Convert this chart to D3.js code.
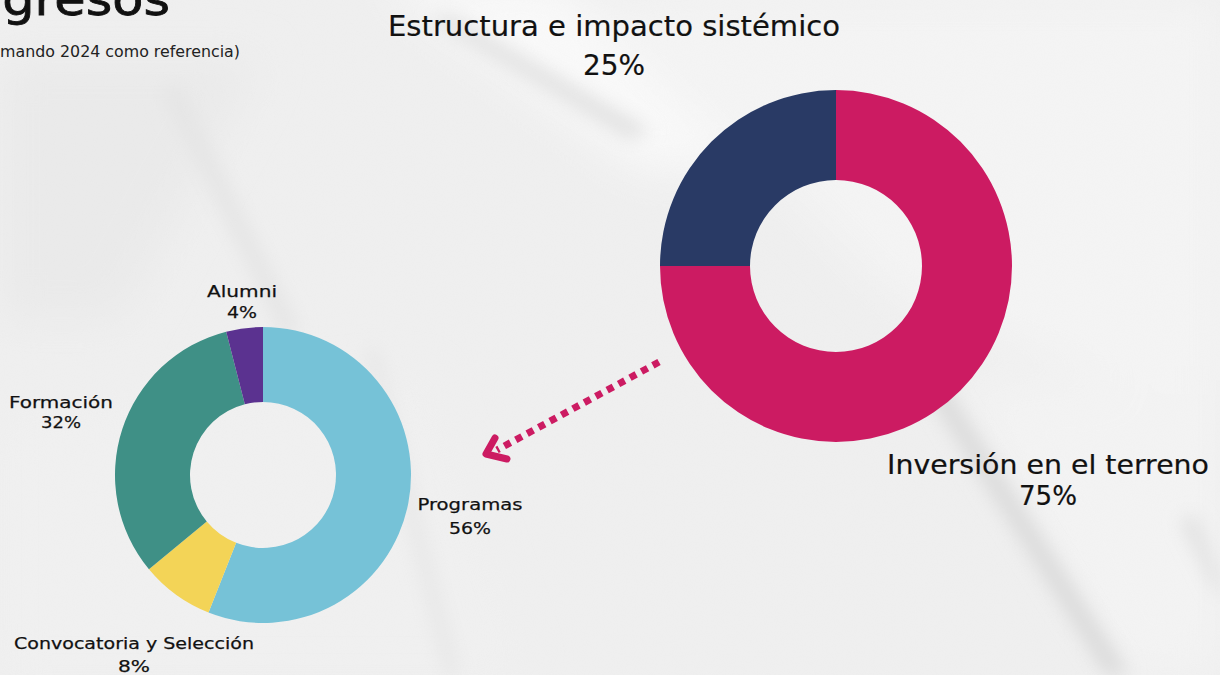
<!DOCTYPE html>
<html>
<head>
<meta charset="utf-8">
<script src="https://cdn.jsdelivr.net/npm/d3@7"></script>
<style>
  html, body { margin: 0; padding: 0; background: #efefef; overflow: hidden; }
  svg { display: block; font-family: "DejaVu Sans", sans-serif; }
</style>
</head>
<body>
<script>
// data
const mainLabels = ["Inversión en el terreno", "Estructura e impacto sistémico"];
const mainValues = [75, 25];
const mainColors = ["#cc1b62", "#293a65"];

const subLabels = ["Programas", "Convocatoria y Selección", "Formación", "Alumni"];
const subValues = [56, 8, 32, 4];
const subColors = ["#76c2d7", "#f3d457", "#3f9086", "#5b3290"];

const width = 1220;
const height = 675;

const svg = d3.select("body")
  .append("svg")
  .attr("width", width)
  .attr("height", height);

// crumpled paper background
const defs = svg.append("defs");
defs.append("filter").attr("id", "blur").append("feGaussianBlur").attr("stdDeviation", 22);
defs.append("filter").attr("id", "blur2").append("feGaussianBlur").attr("stdDeviation", 9);
const noise = defs.append("filter").attr("id", "noise");
noise.append("feTurbulence").attr("type", "fractalNoise").attr("baseFrequency", 0.9).attr("numOctaves", 2).attr("result", "n");
noise.append("feColorMatrix").attr("type", "matrix")
  .attr("values", "0 0 0 0 0.5  0 0 0 0 0.5  0 0 0 0 0.5  0 0 0 0.05 0");

svg.append("rect").attr("width", width).attr("height", height).attr("fill", "#f0f0f0");
const bg = svg.append("g").attr("filter", "url(#blur)");
bg.append("path").attr("d", "M600,0 L1220,0 L1220,420 L900,300 Z").attr("fill", "#f5f5f5");
bg.append("path").attr("d", "M0,420 L420,380 L520,675 L0,675 Z").attr("fill", "#f1f1f1");
bg.append("path").attr("d", "M380,-20 L560,-20 L760,170 L640,170 Z").attr("fill", "#fafafa");
bg.append("path").attr("d", "M960,380 L1220,380 L1220,675 L1120,675 Z").attr("fill", "#f4f4f4");
bg.append("path").attr("d", "M0,60 L260,60 L120,320 L0,320 Z").attr("fill", "#ebebeb");
const bg2 = svg.append("g").attr("filter", "url(#blur2)");
bg2.append("path").attr("d", "M430,20 L450,15 L650,130 L630,140 Z").attr("fill", "#e2e2e2");
bg2.append("path").attr("d", "M160,90 L180,85 L300,330 L285,340 Z").attr("fill", "#e6e6e6");
bg2.append("path").attr("d", "M925,390 L945,385 L1130,675 L1105,675 Z").attr("fill", "#dcdcdc");
bg2.append("path").attr("d", "M365,350 L378,348 L460,675 L445,675 Z").attr("fill", "#e8e8e8");
bg2.append("path").attr("d", "M1180,520 L1195,515 L1220,580 L1220,600 Z").attr("fill", "#e0e0e0");
svg.append("rect").attr("width", width).attr("height", height).attr("filter", "url(#noise)");

// title, clipped at the top left
svg.append("text")
  .attr("x", 170).attr("y", 15)
  .attr("text-anchor", "end")
  .attr("font-size", 46)
  .attr("textLength", 200)
  .attr("lengthAdjust", "spacingAndGlyphs")
  .attr("fill", "#111")
  .attr("stroke", "#111").attr("stroke-width", 0.8)
  .text("Egresos");

svg.append("text")
  .attr("x", 240).attr("y", 57)
  .attr("text-anchor", "end")
  .attr("font-size", 15)
  .attr("textLength", 262)
  .attr("lengthAdjust", "spacingAndGlyphs")
  .attr("fill", "#222")
  .text("(tomando 2024 como referencia)");

const pie = d3.pie().sort(null).value(d => d);

// main donut
const mainArc = d3.arc().innerRadius(86).outerRadius(176);
const mainG = svg.append("g").attr("transform", "translate(836,266)");
mainG.selectAll("path")
  .data(pie(mainValues))
  .join("path")
  .attr("d", mainArc)
  .attr("fill", (d, i) => mainColors[i]);

// sub donut
const subArc = d3.arc().innerRadius(73).outerRadius(148);
const subG = svg.append("g").attr("transform", "translate(263,475)");
subG.selectAll("path")
  .data(pie(subValues))
  .join("path")
  .attr("d", subArc)
  .attr("fill", (d, i) => subColors[i]);

// label layout: anchor, line gap, widths of both lines
const mainLabelPos = [[1048, 474, 31, 322, 58], [614, 36, 39, 452, 62]];
const subLabelPos = [[470, 510, 24, 105, 42], [134, 649, 23, 240, 32], [61, 408, 20, 104, 40], [242, 297, 21, 70, 30]];

const addLabel = (p, name, pct, size, heavy) => {
  [name, pct + "%"].forEach((s, k) => {
    svg.append("text")
      .attr("x", p[0]).attr("y", p[1] + k * p[2])
      .attr("text-anchor", "middle")
      .attr("font-size", size)
      .attr("textLength", p[3 + k])
      .attr("lengthAdjust", "spacingAndGlyphs")
      .attr("fill", "#111")
      .attr("stroke", "#111").attr("stroke-width", heavy)
      .text(s);
  });
};

mainLabels.forEach((name, i) => addLabel(mainLabelPos[i], name, mainValues[i], i === 0 ? 27 : 29, 0.2));
subLabels.forEach((name, i) => addLabel(subLabelPos[i], name, subValues[i], 16.5, 0.25));

// dotted arrow from big donut to small donut
svg.append("line")
  .attr("x1", 659).attr("y1", 362)
  .attr("x2", 497).attr("y2", 450)
  .attr("stroke", "#cc1b62")
  .attr("stroke-width", 7)
  .attr("stroke-dasharray", "7,6");

svg.append("path")
  .attr("d", "M495,438 L486,454 L507,459")
  .attr("fill", "none")
  .attr("stroke", "#cc1b62")
  .attr("stroke-width", 7)
  .attr("stroke-linecap", "round")
  .attr("stroke-linejoin", "round");
</script>
</body>
</html>
